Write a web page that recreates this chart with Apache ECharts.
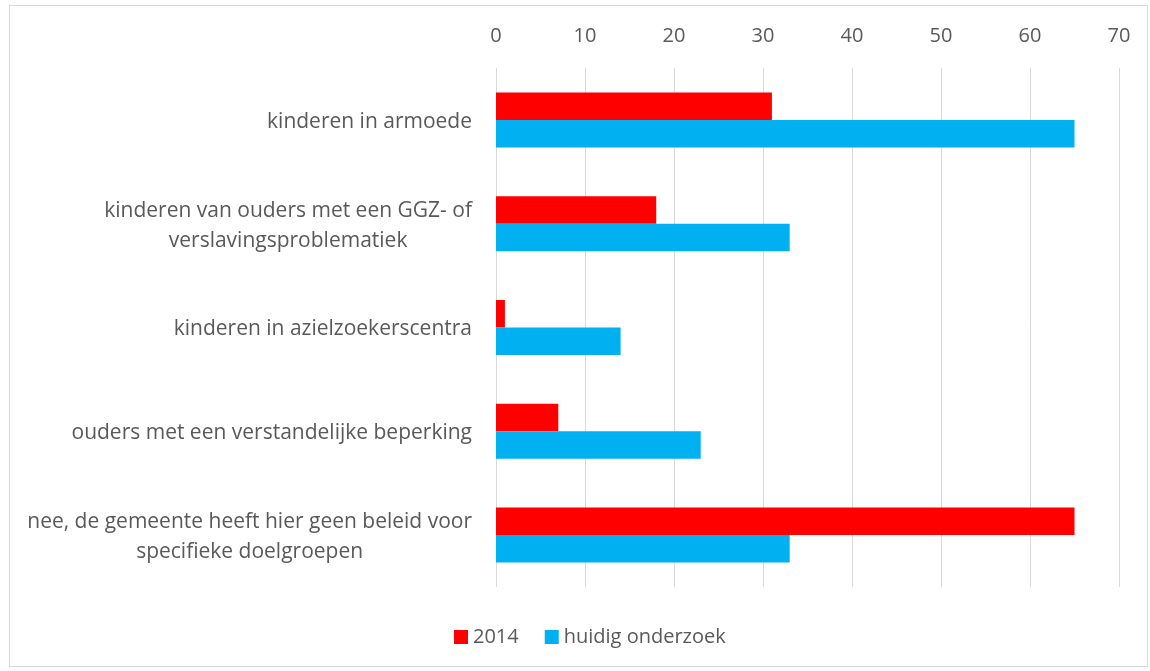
<!DOCTYPE html>
<html>
<head>
<meta charset="utf-8">
<script src="https://cdn.jsdelivr.net/npm/echarts@6/dist/echarts.min.js"></script>
<style>
    html, body { margin: 0; padding: 0; background: #fff; }
    #frame { position: absolute; left: 9px; top: 5px; width: 1137px; height: 660px; border: 1px solid #d9d9d9; }
    #myChart { position: absolute; left: 0; top: 0; width: 1150px; height: 671px; }
</style>
</head>
<body>
<div id="frame"></div>
<div id="myChart"></div>
<script>
// categories, top to bottom
const categories = [
    'kinderen in armoede',
    'kinderen van ouders met een GGZ- of\nverslavingsproblematiek',
    'kinderen in azielzoekerscentra',
    'ouders met een verstandelijke beperking',
    'nee, de gemeente heeft hier geen beleid voor\nspecifieke doelgroepen'
];
const seriesNames = ['2014', 'huidig onderzoek'];
const values2014 = [31, 18, 1, 7, 65];
const valuesHuidig = [65, 33, 14, 23, 33];

const textColor = '#595959';
const font = 'Open Sans';

let myChart = echarts.init(document.getElementById('myChart'));
myChart.setOption({
    animation: false,
    textStyle: { fontFamily: font },
    grid: {
        left: 496,
        right: 31,
        top: 68,
        bottom: 84
    },
    legend: {
        bottom: 19,
        left: 449,
        itemWidth: 14,
        itemHeight: 14,
        itemGap: 26,
        icon: 'rect',
        textStyle: { color: textColor, fontSize: 20, fontFamily: font },
        data: seriesNames
    },
    xAxis: {
        type: 'value',
        position: 'top',
        min: 0,
        max: 70,
        interval: 10,
        axisLine: { show: false },
        axisTick: { show: false },
        axisLabel: { color: textColor, fontSize: 20, margin: 22 },
        splitLine: { show: true, lineStyle: { color: '#d9d9d9', width: 1 } }
    },
    yAxis: {
        type: 'category',
        inverse: true,
        data: categories,
        axisLine: { show: false },
        axisTick: { show: false },
        axisLabel: {
            color: textColor,
            fontSize: 21,
            margin: 24,
            lineHeight: 30,
            padding: [4, 0, 0, 0],
            formatter: function (v) {
                return v.split('\n').map(function (l) { return '{c|' + l + '}'; }).join('\n');
            },
            rich: {
                c: { align: 'center', color: textColor, fontSize: 21, lineHeight: 30, fontFamily: font }
            }
        }
    },
    series: [
        {
            name: seriesNames[0],
            type: 'bar',
            data: values2014,
            itemStyle: { color: '#ff0000' },
            barGap: '0%',
            barCategoryGap: '47%'
        },
        {
            name: seriesNames[1],
            type: 'bar',
            data: valuesHuidig,
            itemStyle: { color: '#00b0f0' },
            barGap: '0%',
            barCategoryGap: '47%'
        }
    ]
});
</script>
</body>
</html>
